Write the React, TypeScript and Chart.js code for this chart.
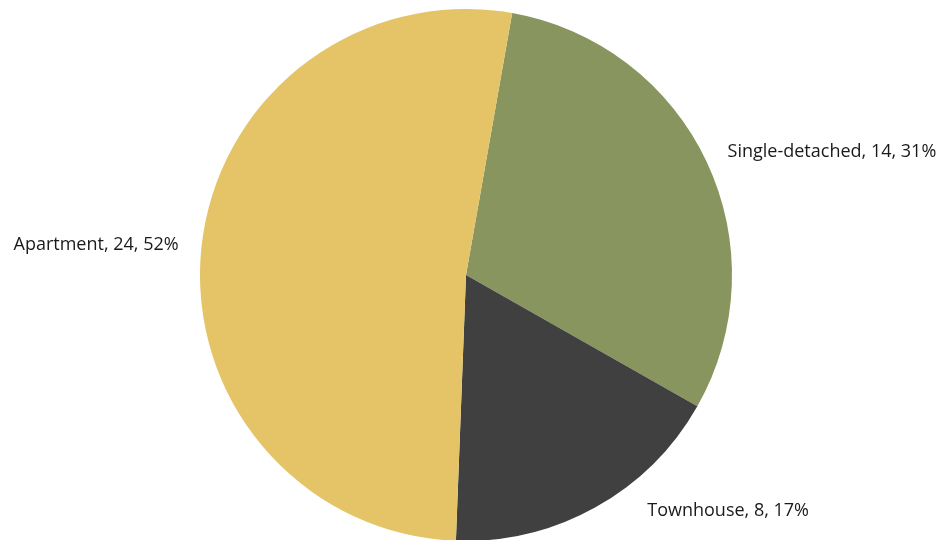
import React, { useEffect, useRef } from "react";
import { Chart, registerables } from "chart.js";

Chart.register(...registerables);

const categories = ["Single-detached", "Townhouse", "Apartment"];
const values = [14, 8, 24];
const percentLabels = ["31%", "17%", "52%"];
const colors = ["#88955F", "#404040", "#E5C468"];

const labelPlugin = {
  id: "outsideLabels",
  afterDatasetsDraw(chart: any) {
    const ctx = chart.ctx;
    const meta = chart.getDatasetMeta(0);
    const visibleH = Math.min(chart.height, 540);
    ctx.save();
    ctx.font = "18px 'Open Sans', Lato, sans-serif";
    ctx.fillStyle = "#1a1a1a";
    ctx.textBaseline = "middle";
    meta.data.forEach((arc: any, i: number) => {
      const { x, y, startAngle, endAngle, outerRadius } = arc.getProps(
        ["x", "y", "startAngle", "endAngle", "outerRadius"],
        true
      );
      const mid = (startAngle + endAngle) / 2;
      const dx = Math.cos(mid);
      const dy = Math.sin(mid);
      const dist = outerRadius + 22;
      const text = `${categories[i]}, ${values[i]}, ${percentLabels[i]}`;
      const w = ctx.measureText(text).width;
      const h = 18;
      const px = x + dist * dx;
      const py = y + dist * dy;
      let cy = py;
      let left = dx >= 0 ? px + 1 : px - w - 1;
      const maxCy = visibleH - 20 - h / 2;
      if (cy > maxCy) {
        cy = maxCy;
        const top = cy - h / 2;
        const vy = top - y;
        const hx = Math.sqrt(Math.max(0, dist * dist - vy * vy));
        left = dx >= 0 ? x + hx + 4 : x - hx - w - 4;
      }
      ctx.textAlign = "left";
      ctx.fillText(text, left, cy);
    });
    ctx.restore();
  },
};

export default function App() {
  const ref = useRef<HTMLCanvasElement | null>(null);
  useEffect(() => {
    document.body.style.margin = "0";
    document.body.style.overflow = "hidden";
    const chart = new Chart(ref.current as HTMLCanvasElement, {
      type: "pie",
      data: {
        labels: categories,
        datasets: [
          {
            data: values,
            backgroundColor: colors,
            borderWidth: 0,
          },
        ],
      },
      options: {
        animation: false,
        responsive: false,
        rotation: 10,
        layout: { padding: { top: 9, bottom: 9, left: 0, right: 13 } },
        plugins: {
          legend: { display: false },
          tooltip: { enabled: false },
        },
      },
      plugins: [labelPlugin],
    });
    return () => chart.destroy();
  }, []);
  return (
    <div style={{ width: 945, height: 550, background: "#fff" }}>
      <canvas ref={ref} width={945} height={550} />
    </div>
  );
}
